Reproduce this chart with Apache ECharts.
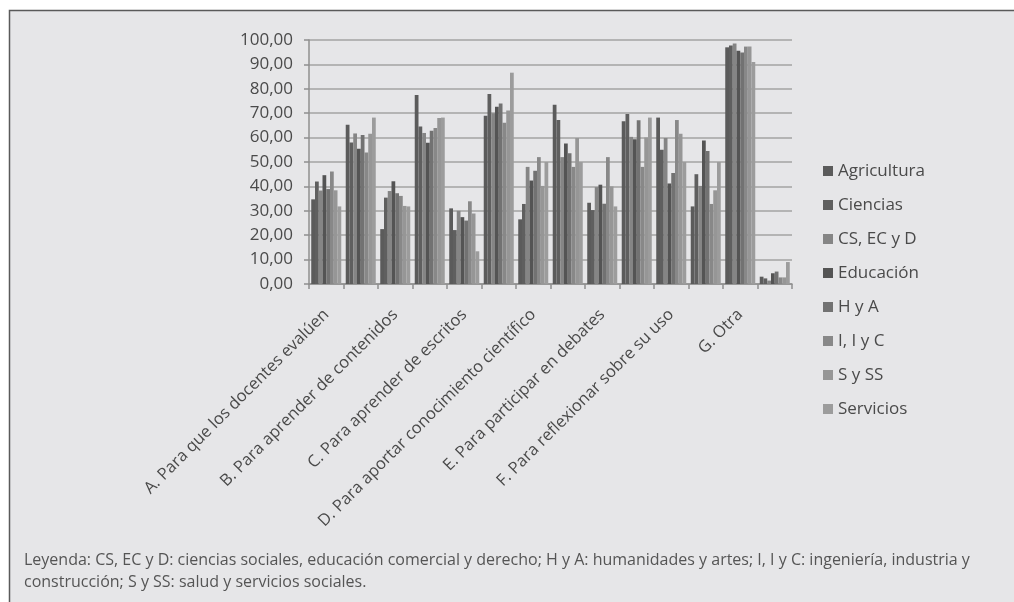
<!DOCTYPE html>
<html>
<head>
<meta charset="utf-8">
<script src="https://cdn.jsdelivr.net/npm/echarts@6/dist/echarts.min.js"></script>
<style>
  html, body { margin: 0; padding: 0; background: #fff; }
  #chart { width: 1014px; height: 602px; }
</style>
</head>
<body>
<div id="chart"></div>
<script>
// Finalidades de uso, por área de formación (%)
const questions = [
  'A. Para que los docentes evalúen',
  'B. Para aprender de contenidos',
  'C. Para aprender de escritos',
  'D. Para aportar conocimiento científico',
  'E. Para participar en debates',
  'F. Para reflexionar sobre su uso',
  'G. Otra'
];
// dos grupos de barras por pregunta; solo el primero lleva etiqueta
const categories = questions.flatMap(q => [q, q + ' ']);

const seriesNames = ['Agricultura', 'Ciencias', 'CS, EC y D', 'Educación', 'H y A', 'I, I y C', 'S y SS', 'Servicios'];
const seriesColors = ['#5b5b5b', '#5f5f5f', '#858585', '#545454', '#727272', '#888888', '#969696', '#9c9c9c'];

const agricultura = [34.7, 65.3, 22.5, 77.5, 31.0, 69.0, 26.5, 73.5, 33.3, 66.7, 68.2, 31.8, 97.0, 3.0];
const ciencias    = [42.0, 58.0, 35.4, 64.6, 22.1, 77.9, 32.8, 67.2, 30.3, 69.7, 55.0, 45.0, 97.7, 2.3];
const csEcD       = [38.3, 61.7, 38.1, 61.9, 30.0, 70.0, 48.0, 52.0, 39.7, 60.3, 59.8, 40.2, 98.6, 1.4];
const educacion   = [44.6, 55.4, 42.1, 57.9, 27.4, 72.6, 42.4, 57.6, 40.7, 59.3, 41.2, 58.8, 95.6, 4.4];
const hyA         = [38.9, 61.1, 37.2, 62.8, 26.0, 74.0, 46.4, 53.6, 32.9, 67.1, 45.5, 54.5, 94.9, 5.1];
const iIyC        = [46.1, 53.9, 36.1, 63.9, 33.9, 66.1, 52.0, 48.0, 52.0, 48.0, 67.2, 32.8, 97.3, 2.7];
const syss        = [38.4, 61.6, 32.0, 68.0, 28.9, 71.1, 40.2, 59.8, 40.0, 60.0, 61.6, 38.4, 97.3, 2.7];
const servicios   = [31.8, 68.2, 31.8, 68.2, 13.4, 86.6, 50.0, 50.0, 31.8, 68.2, 50.0, 50.0, 91.0, 9.0];
const seriesData = [agricultura, ciencias, csEcD, educacion, hyA, iIyC, syss, servicios];

const yTicks = [0, 10, 20, 30, 40, 50, 60, 70, 80, 90, 100];

const caption = 'Leyenda: CS, EC y D: ciencias sociales, educación comercial y derecho; H y A: humanidades y artes; I, I y C: ingeniería, industria y\nconstrucción; S y SS: salud y servicios sociales.';

const FONT = 'Open Sans';
const chart = echarts.init(document.getElementById('chart'));

chart.setOption({
  backgroundColor: '#ffffff',
  animation: false,
  textStyle: { fontFamily: FONT },
  graphic: [
    {
      type: 'rect',
      z: -10,
      shape: { x: 9.5, y: 10.5, width: 1010, height: 600 },
      style: { fill: '#e6e6e8', stroke: '#5a5a5a', lineWidth: 1.5 }
    },
    {
      type: 'text',
      left: 24,
      top: 549,
      style: {
        text: caption,
        fontFamily: FONT,
        fontSize: 16,
        lineHeight: 22,
        fill: '#555555'
      }
    }
  ],
  legend: {
    orient: 'vertical',
    left: 818,
    top: 157,
    icon: 'rect',
    itemWidth: 10,
    itemHeight: 10,
    itemGap: 16,
    itemTextGap: 5,
    data: seriesNames,
    textStyle: { fontFamily: FONT, fontSize: 17, lineHeight: 18, color: '#4a4a4a' }
  },
  grid: { left: 309, right: 222, top: 40, bottom: 318, containLabel: false },
  xAxis: {
    type: 'category',
    data: categories,
    boundaryGap: true,
    axisLine: { lineStyle: { color: '#8f8f8f', width: 1.5 } },
    axisTick: { show: true, length: 5, interval: 0, lineStyle: { color: '#8f8f8f', width: 1.5 } },
    axisLabel: {
      interval: 1,
      rotate: 45,
      margin: 28,
      fontFamily: FONT,
      fontSize: 16.5,
      color: '#4a4a4a'
    }
  },
  yAxis: {
    type: 'value',
    min: yTicks[0],
    max: yTicks[yTicks.length - 1],
    interval: 10,
    axisLine: { show: true, lineStyle: { color: '#8f8f8f', width: 1.5 } },
    axisTick: { show: true, length: 5, lineStyle: { color: '#8f8f8f', width: 1.5 } },
    splitLine: { lineStyle: { color: '#a3a3a3', width: 1.5 } },
    axisLabel: {
      margin: 16,
      fontFamily: FONT,
      fontSize: 17,
      color: '#4a4a4a',
      formatter: v => v.toFixed(2).replace('.', ',')
    }
  },
  series: seriesNames.map((name, i) => ({
    name: name,
    type: 'bar',
    data: seriesData[i],
    barGap: '0%',
    barCategoryGap: '13%',
    itemStyle: { color: seriesColors[i] }
  }))
});
</script>
</body>
</html>
